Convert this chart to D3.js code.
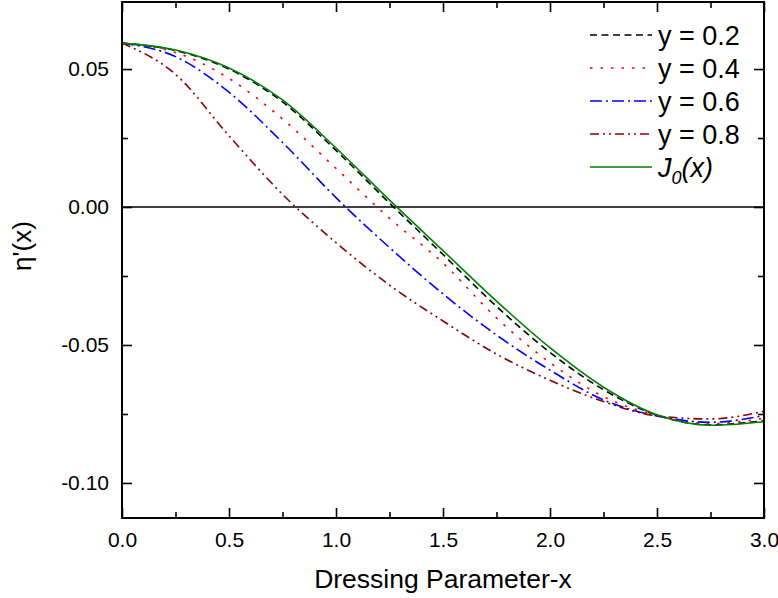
<!DOCTYPE html>
<html>
<head>
<meta charset="utf-8">
<script src="https://cdn.jsdelivr.net/npm/d3@7"></script>
<style>
    body { margin: 0; background: #fff; }
    svg { font-family: "Liberation Sans", Arial, sans-serif; }
</style>
</head>
<body>
<div id="chart"></div>
<script>
// x positions shared by every series
const xValues = [0, 0.25, 0.5, 0.75, 1.0, 1.25, 1.5, 1.75, 2.0, 2.25, 2.5, 2.75, 3.0];

// values
const y02 = [0.0594, 0.0567, 0.0500, 0.0381, 0.0205, 0.0014, -0.0172, -0.0360, -0.0527, -0.0662, -0.0754, -0.0789, -0.0775];
const y04 = [0.0594, 0.0560, 0.0466, 0.0319, 0.0140, -0.0041, -0.0203, -0.0402, -0.0564, -0.0687, -0.0755, -0.0785, -0.0766];
const y06 = [0.0594, 0.0545, 0.0416, 0.0234, 0.0034, -0.0147, -0.0315, -0.0464, -0.0591, -0.0699, -0.0757, -0.0780, -0.0756];
const y08 = [0.0594, 0.0481, 0.0258, 0.0046, -0.0129, -0.0283, -0.0413, -0.0533, -0.0628, -0.0705, -0.0757, -0.0768, -0.0740];
const j0 = [0.0594, 0.0569, 0.0504, 0.0388, 0.0214, 0.0025, -0.0158, -0.0341, -0.0510, -0.0653, -0.0753, -0.0791, -0.0778];

const xTicks = [0, 0.5, 1.0, 1.5, 2.0, 2.5, 3.0];
const xMinorTicks = [0.25, 0.75, 1.25, 1.75, 2.25, 2.75];
const yTicks = [-0.10, -0.05, 0.00, 0.05];
const yMinorTicks = [-0.075, -0.025, 0.025];

const series = [
    { label: "y = 0.2", values: y02, color: "#000000", dash: "7,4.5" },
    { label: "y = 0.4", values: y04, color: "#ff0000", dash: "2.5,8" },
    { label: "y = 0.6", values: y06, color: "#0000ff", dash: "12,4,2,4" },
    { label: "y = 0.8", values: y08, color: "#8b0000", dash: "9,4,2,4,2,4" },
    { label: "J0", values: j0, color: "#008000", dash: null },
];

const width = 778;
const height = 598;
const margin = { top: 2, right: 14, bottom: 80, left: 122 };
const plotWidth = width - margin.left - margin.right;
const plotHeight = height - margin.top - margin.bottom;

// plain hyphen for negatives, like the original
const fmt = (digits) => (d) => d.toFixed(digits);

const svg = d3.select("#chart").append("svg").attr("width", width).attr("height", height);
const g = svg.append("g").attr("transform", `translate(${margin.left},${margin.top})`);

const x = d3.scaleLinear().domain([0, 3]).range([0, plotWidth]);
const y = d3.scaleLinear().domain([-0.1127, 0.0743]).range([plotHeight, 0]);

// zero line
g.append("line")
    .attr("x1", x(0)).attr("x2", x(3))
    .attr("y1", y(0)).attr("y2", y(0))
    .attr("stroke", "#000").attr("stroke-width", 1.6);

// curves
const line = d3.line()
    .x((d) => x(d[0]))
    .y((d) => y(d[1]))
    .curve(d3.curveMonotoneX);

series.forEach((s) => {
    g.append("path")
        .datum(xValues.map((xv, i) => [xv, s.values[i]]))
        .attr("fill", "none")
        .attr("stroke", s.color)
        .attr("stroke-width", 1.6)
        .attr("stroke-dasharray", s.dash)
        .attr("d", line);
});

// axes, ticks pointing inward
function styleAxis(sel) {
    sel.select(".domain").remove();
    sel.selectAll(".tick line").attr("stroke", "#000").attr("stroke-width", 1.6);
    sel.selectAll(".tick text").style("font-size", "21px").attr("fill", "#000");
}

g.append("g").attr("transform", `translate(0,${plotHeight})`)
    .call(d3.axisBottom(x).tickValues(xTicks).tickSize(-10).tickPadding(14).tickFormat(fmt(1)))
    .call(styleAxis);
g.append("g").attr("transform", `translate(0,${plotHeight})`)
    .call(d3.axisBottom(x).tickValues(xMinorTicks).tickSize(-6).tickFormat(""))
    .call(styleAxis);
g.append("g")
    .call(d3.axisTop(x).tickValues(xTicks).tickSize(-10).tickFormat(""))
    .call(styleAxis);
g.append("g")
    .call(d3.axisTop(x).tickValues(xMinorTicks).tickSize(-6).tickFormat(""))
    .call(styleAxis);

g.append("g")
    .call(d3.axisLeft(y).tickValues(yTicks).tickSize(-10).tickPadding(13).tickFormat(fmt(2)))
    .call(styleAxis);
g.append("g")
    .call(d3.axisLeft(y).tickValues(yMinorTicks).tickSize(-6).tickFormat(""))
    .call(styleAxis);
g.append("g").attr("transform", `translate(${plotWidth},0)`)
    .call(d3.axisRight(y).tickValues(yTicks).tickSize(-10).tickFormat(""))
    .call(styleAxis);
g.append("g").attr("transform", `translate(${plotWidth},0)`)
    .call(d3.axisRight(y).tickValues(yMinorTicks).tickSize(-6).tickFormat(""))
    .call(styleAxis);

// frame
g.append("rect")
    .attr("width", plotWidth).attr("height", plotHeight)
    .attr("fill", "none").attr("stroke", "#000").attr("stroke-width", 2);

// axis titles
svg.append("text")
    .attr("x", margin.left + plotWidth / 2)
    .attr("y", 588)
    .attr("text-anchor", "middle")
    .style("font-size", "26.5px")
    .text("Dressing Parameter-x");

svg.append("text")
    .attr("transform", "translate(31,246) rotate(-90)")
    .attr("text-anchor", "middle")
    .style("font-size", "26px")
    .text("η'(x)");

// legend
const legend = svg.append("g").attr("transform", "translate(590,35)");
series.forEach((s, i) => {
    const row = legend.append("g").attr("transform", `translate(0,${i * 33})`);
    row.append("line")
        .attr("x1", 0).attr("x2", 62)
        .attr("stroke", s.color).attr("stroke-width", 1.6)
        .attr("stroke-dasharray", s.dash);
    const t = row.append("text")
        .attr("x", 68).attr("y", 9.5)
        .style("font-size", "27px");
    if (s.label === "J0") {
        t.style("font-style", "italic");
        t.append("tspan").text("J");
        t.append("tspan").attr("dy", 7).style("font-size", "18px").text("0");
        t.append("tspan").attr("dy", -7).text("(x)");
    } else {
        t.text(s.label);
    }
});
</script>
</body>
</html>
